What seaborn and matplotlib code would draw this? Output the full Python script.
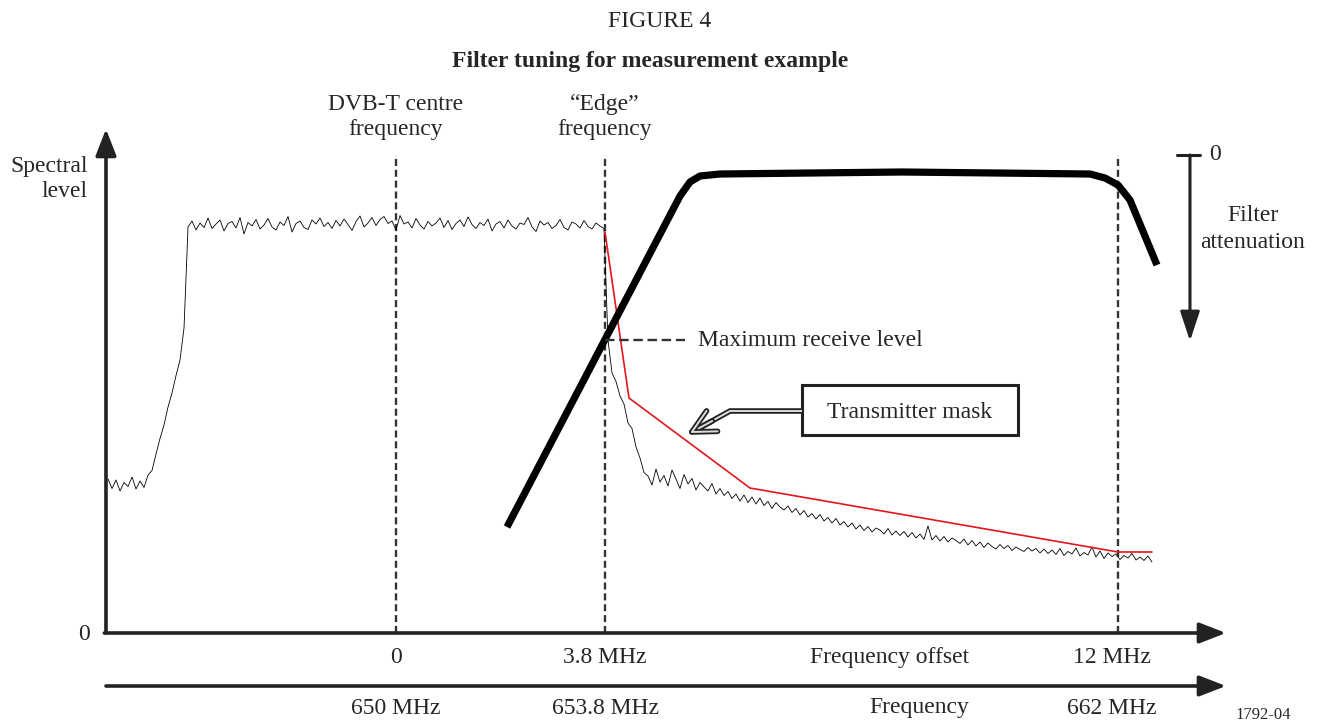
import numpy as np
import pandas as pd
import matplotlib
matplotlib.use("Agg")
import matplotlib.pyplot as plt
import seaborn as sns
from matplotlib.patches import Rectangle
import matplotlib.patheffects as pe

# ---------------- data (schematic units: x = offset scale, y = spectral level) ----------------
trace_x_start, trace_x_end = -5.236, 13.745
trace_low = [30.8, 28.9, 30.6, 28.4, 30.1, 29.3, 31.2, 28.8, 30.4, 29.1, 31.6]
trace_rise = [32.5, 35.8, 38.9, 41.6, 45.2, 48.0, 51.5, 54.6, 61.0]
trace_plateau = [
    81.2, 82.4, 80.6, 82.0, 81.1, 83.0, 80.9, 81.8, 82.6, 80.4, 81.9, 82.3, 81.0, 83.1, 79.8,
    82.1, 81.4, 82.7, 80.8, 81.6, 82.9, 81.2, 80.6, 82.2, 81.5, 83.3, 80.2, 81.9, 82.4, 81.1,
    80.7, 82.6, 81.8, 83.0, 81.3, 82.1, 80.9, 82.5, 81.4, 82.8, 81.7, 80.5, 82.3, 83.4, 81.2,
    82.0, 83.1, 81.5, 82.7, 83.3, 81.9, 82.4, 80.6, 83.5, 81.8, 82.2, 81.0, 82.9, 81.6, 80.8,
    82.3, 81.4, 82.0, 83.0, 81.1, 82.5, 80.7, 81.9, 82.6, 81.3, 83.2, 81.7, 80.9, 82.1, 81.5,
    82.8, 80.4, 81.8, 82.3, 81.0, 82.6, 81.4, 80.8, 82.0, 81.7, 83.1, 81.2, 80.3, 82.4, 81.6,
    82.1, 80.9, 81.5, 82.7, 81.1, 80.6, 82.2, 81.8, 81.0, 82.5, 81.3, 80.8, 82.0, 81.4, 80.9]
trace_tail = [
    58.6, 52.0, 50.3, 47.4, 45.8, 42.0, 40.9, 37.2, 35.0, 32.1, 31.4, 29.6, 32.8, 30.2, 31.5,
    29.4, 32.6, 30.8, 28.9, 31.7, 29.8, 30.9, 28.6, 30.1, 29.2, 28.4, 29.9, 27.8, 28.9, 27.5,
    28.3, 26.9, 27.8, 26.4, 27.6, 26.1, 27.2, 25.8, 27.0, 25.5, 26.3, 24.9, 26.1, 25.2, 24.6,
    25.4, 24.1, 24.9, 23.6, 24.5, 23.2, 23.9, 22.8, 23.7, 22.4, 23.1, 22.0, 22.9, 21.6, 22.3,
    21.2, 22.0, 20.8, 21.6, 20.5, 21.3, 20.2, 21.0, 20.6, 19.8, 20.9, 19.6, 20.4, 19.5, 20.3,
    19.2, 20.1, 19.0, 19.8, 18.7, 21.4, 18.6, 19.5, 18.4, 19.3, 18.2, 19.0, 18.5, 17.9, 18.8,
    17.6, 18.5, 17.4, 18.2, 17.1, 18.0, 17.3, 16.8, 17.7, 16.9, 17.5, 16.5, 17.2, 16.7, 16.3,
    17.1, 16.4, 16.9, 16.0, 16.8, 15.9, 16.6, 15.7, 16.9, 15.5, 16.3, 15.8, 17.0, 15.4, 16.1,
    15.6, 17.2, 15.2, 16.4, 14.9, 16.0, 15.3, 15.8, 14.7, 15.5, 15.0, 15.9, 14.6, 15.2, 14.5,
    15.4, 14.2]

filter_x = [2.018, 5.164, 5.345, 5.527, 5.891, 9.2, 12.618, 12.891, 13.127, 13.345, 13.836]
filter_y = [21.2, 87.4, 90.2, 91.4, 91.8, 92.2, 91.8, 91.0, 89.6, 86.6, 73.6]

mask_x = [3.8, 4.236, 6.436, 13.127, 13.745]
mask_y = [80.2, 47.0, 29.0, 16.2, 16.2]

marker_x = [0.0, 3.8, 13.127]
marker_top = 95.6
max_receive_level = 58.6

offset_labels = ["0", "3.8 MHz", "12 MHz"]
freq_labels = ["650 MHz", "653.8 MHz", "662 MHz"]

# ---------------- figure ----------------
sns.set_theme(style="white")
plt.rcParams['font.family'] = ['Liberation Serif', 'DejaVu Serif']

fig = plt.figure(figsize=(13.19, 7.21), dpi=100)
ax = fig.add_axes([0, 0, 1, 1])
ax.set_xlim(-7.2, 16.7818)
ax.set_ylim(-17.6, 126.6)
ax.axis("off")

FS = 17
LS = 1.3
dark = "#222222"

trace_y = trace_low + trace_rise + trace_plateau + trace_tail
trace_df = pd.DataFrame({"x": np.linspace(trace_x_start, trace_x_end, len(trace_y)), "y": trace_y})
sns.lineplot(data=trace_df, x="x", y="y", ax=ax, color="black", lw=0.6,
             estimator=None, sort=False)

sns.lineplot(x=mask_x, y=mask_y, ax=ax, color="#e3161d", lw=1.2, estimator=None, sort=False)
sns.lineplot(x=filter_x, y=filter_y, ax=ax, color="black", lw=5.2, estimator=None, sort=False,
             solid_capstyle="butt", solid_joinstyle="round")

# dashed markers
for xm in marker_x:
    ax.plot([xm, xm], [0, marker_top], color="#333333", lw=1.7, ls=(0, (3, 1.6)), zorder=1)
ax.plot([3.8, 5.255], [max_receive_level] * 2, color="#333333", lw=1.7, ls=(0, (4, 2)))
ax.text(5.49, max_receive_level, "Maximum receive level", fontsize=FS, va="center", ha="left")

# axes arrows
x0 = -5.273
arrow_kw = dict(arrowstyle="-|>,head_length=0.9,head_width=0.35", color=dark, lw=2.6,
                mutation_scale=18, shrinkA=0, shrinkB=0)
ax.annotate("", xy=(x0, 100.8), xytext=(x0, 0), arrowprops=arrow_kw)
ax.annotate("", xy=(15.09, 0), xytext=(x0 - 0.03, 0), arrowprops=arrow_kw)
ax.annotate("", xy=(15.09, -10.6), xytext=(x0, -10.6), arrowprops=arrow_kw)

# filter attenuation arrow
fa_x = 14.436
ax.annotate("", xy=(fa_x, 58.4), xytext=(fa_x, 95.6),
            arrowprops=dict(arrowstyle="-|>,head_length=1.0,head_width=0.33", color=dark,
                            lw=2.2, mutation_scale=18, shrinkA=0, shrinkB=0))
ax.plot([fa_x - 0.24, fa_x + 0.18], [95.6, 95.6], color=dark, lw=2.2)
ax.text(14.89, 95.8, "0", fontsize=FS, ha="center", va="center")
ax.text(15.58, 80.8, "Filter\nattenuation", fontsize=FS, ha="center", va="center",
        linespacing=1.4)

# transmitter mask box and arrow
ax.add_patch(Rectangle((7.382, 39.6), 3.927, 10.0, fill=False, ec=dark, lw=2.2))
ax.text(9.345, 44.2, "Transmitter mask", fontsize=FS, ha="center", va="center")
outline = [pe.Stroke(linewidth=4.0, foreground="#222222"),
           pe.Stroke(linewidth=1.4, foreground="#dddddd")]
ax.plot([7.382, 6.073, 5.40], [44.4, 44.4, 40.3], color="#dddddd", lw=1.4,
        path_effects=outline, solid_capstyle="butt", solid_joinstyle="miter")
ax.annotate("", xy=(5.345, 40.0), xytext=(5.75, 42.4),
            arrowprops=dict(arrowstyle="->,head_length=0.75,head_width=0.38",
                            color="#dddddd", lw=1.4, mutation_scale=22,
                            shrinkA=0, shrinkB=0, path_effects=outline))

# labels
ax.text(4.8, 122.3, "FIGURE 4", fontsize=FS, ha="center", va="center")
ax.text(4.618, 114.2, "Filter tuning for measurement example", fontsize=FS,
        fontweight="bold", ha="center", va="center")
ax.text(0.0, 103.2, "DVB-T centre\nfrequency", fontsize=FS, ha="center", va="center",
        linespacing=LS)
ax.text(3.8, 103.2, "\u201cEdge\u201d\nfrequency", fontsize=FS, ha="center", va="center",
        linespacing=LS)
ax.text(-5.6, 90.8, "Spectral\nlevel", fontsize=FS, ha="right", va="center",
        linespacing=LS)
ax.text(-5.67, -0.2, "0", fontsize=FS, ha="center", va="center")

tick_x = [0.0, 3.8, 13.02]
for xm, lab in zip(tick_x, offset_labels):
    ax.text(xm, -4.9, lab, fontsize=FS, ha="center", va="center")
for xm, lab in zip(tick_x, freq_labels):
    ax.text(xm, -15.0, lab, fontsize=FS, ha="center", va="center")
ax.text(8.98, -4.9, "Frequency offset", fontsize=FS, ha="center", va="center")
ax.text(9.51, -15.0, "Frequency", fontsize=FS, ha="center", va="center")
ax.text(15.76, -16.4, "1792-04", fontsize=12, ha="center", va="center")

fig.savefig("out.png", dpi=100)
